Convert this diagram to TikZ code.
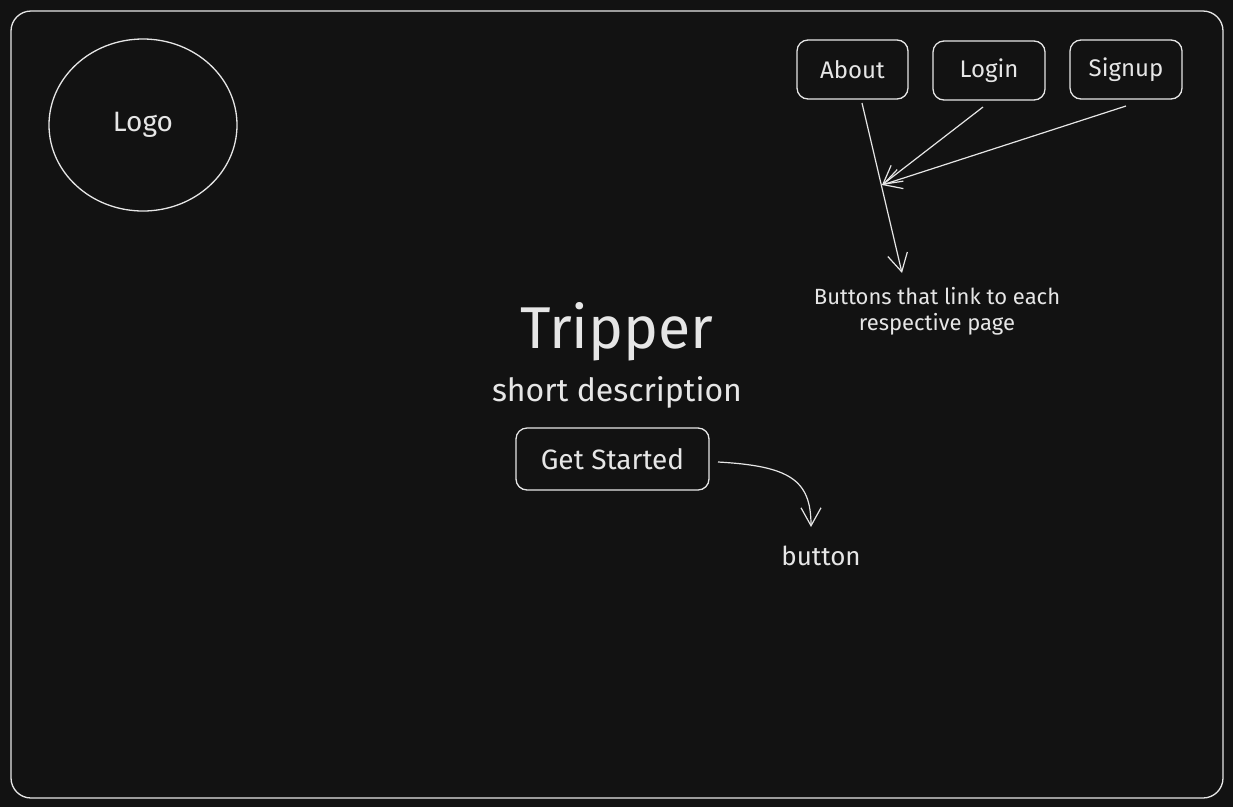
\documentclass[tikz,border=0pt]{standalone}
\usepackage{fontspec}
\setmainfont{Fira Sans}
\usetikzlibrary{arrows.meta,shapes.geometric}
\definecolor{bg}{HTML}{121212}
\definecolor{ink}{HTML}{E6E6E6}
\tikzset{
  sketch/.style={draw=ink, line width=1.3pt},
  btn/.style={sketch, rounded corners=11pt, text=ink, font=\fontsize{24}{28}\selectfont, inner sep=0pt},
  lbl/.style={text=ink, inner sep=0pt},
  arr/.style={draw=ink, line width=1.2pt, -{Straight Barb[length=18pt,width=20pt,line width=1.2pt]}},
}
\begin{document}
\begin{tikzpicture}[x=1pt,y=-1pt]
\useasboundingbox (0,0) rectangle (1233,807);
\fill[bg] (0,0) rectangle (1233,807);
\draw[sketch, rounded corners=20pt] (11,11) rectangle (1223,798);
% logo
\node[sketch, ellipse, minimum width=188pt, minimum height=172pt, inner sep=0pt] (logo) at (143,125) {};
\node[lbl, font=\fontsize{28}{32}\selectfont] (logotext) at (143,125) {Logo};
% nav buttons
\node[btn, minimum width=111pt, minimum height=59pt] (about) at (852.5,69.5) {About};
\node[btn, minimum width=112pt, minimum height=59pt] (login) at (989,70.5) {Login};
\node[btn, minimum width=112pt, minimum height=59pt] (signup) at (1126,69.5) {Signup};
\coordinate (hub) at (882,185);
\coordinate (aboutstart) at (862,103);
\coordinate (loginstart) at (983,107);
\coordinate (signupstart) at (1126,106);
\node[lbl, align=center, font=\fontsize{22}{26}\selectfont] (note) at (937,311) {Buttons that link to each\\respective page};
\coordinate (noteend) at (902,273);
\draw[arr] (aboutstart) -- (noteend);
\draw[arr] (loginstart) -- (hub);
\draw[arr] (signupstart) -- (hub);
% center
\node[lbl, font=\fontsize{59}{64}\selectfont] (title) at (617,332) {Tripper};
\node[lbl, font=\fontsize{32}{36}\selectfont] (desc) at (617,392) {short description};
\node[btn, minimum width=193pt, minimum height=62pt, font=\fontsize{28}{32}\selectfont] (gs) at (612.5,459) {Get Started};
\node[lbl, font=\fontsize{26}{30}\selectfont] (btnlbl) at (821,556) {button};
\coordinate (gsstart) at (718,462);
\coordinate (gsend) at (811,527);
\draw[arr] (gsstart) .. controls (790,466) and (811,480) .. (gsend);
\end{tikzpicture}
\end{document}
